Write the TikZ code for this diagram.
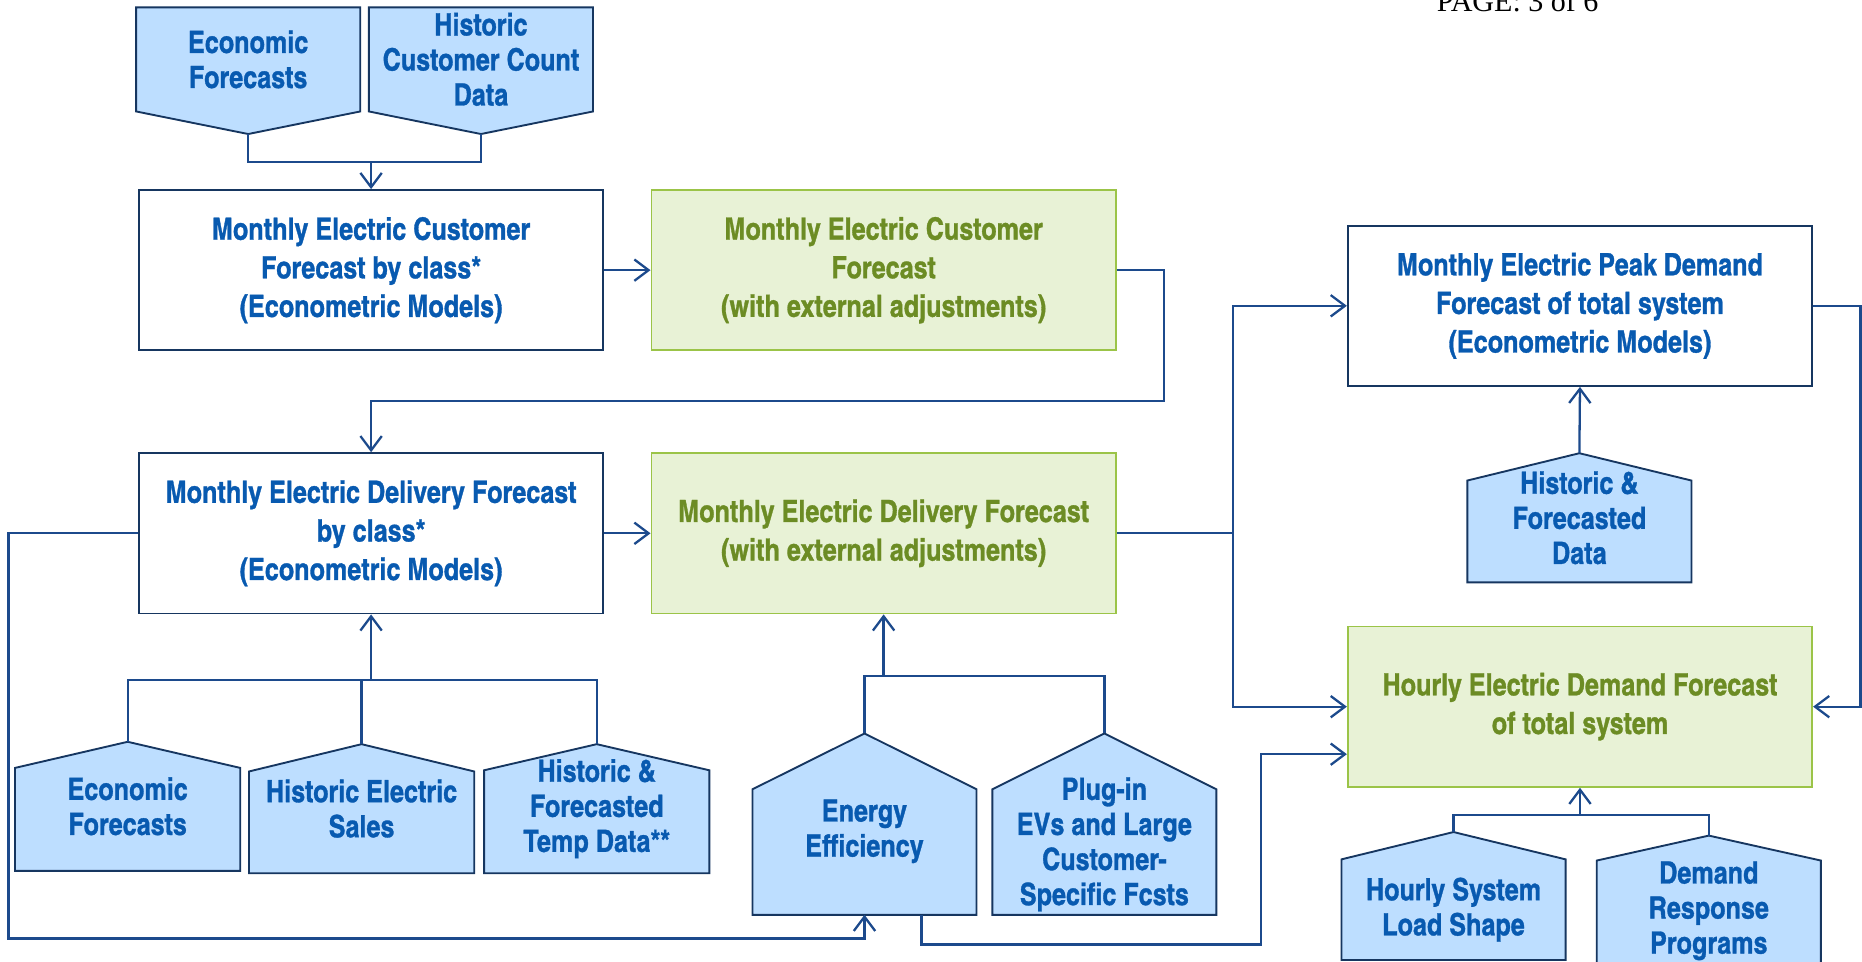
\documentclass[tikz,border=0pt]{standalone}
\usepackage{fontspec}
\setmainfont{texgyreheroscn}[Extension=.otf, UprightFont=*-regular,
  BoldFont=*-bold, BoldFeatures={FakeBold=1}]
\newfontfamily\pagefont{Liberation Serif}
\usetikzlibrary{arrows.meta,positioning,calc,backgrounds}

\definecolor{linkblue}{RGB}{28,74,140}
\definecolor{edgenavy}{RGB}{22,54,96}
\definecolor{inblue}{RGB}{189,222,255}
\definecolor{txtblue}{RGB}{8,90,176}
\definecolor{txtgreen}{RGB}{108,140,36}
\definecolor{adjfill}{RGB}{232,242,214}
\definecolor{adjedge}{RGB}{155,196,72}

\begin{document}
\begin{tikzpicture}[x=0.2mm, y=-0.2mm,
    model/.style={draw=edgenavy, line width=0.9pt, fill=white,
      minimum width=78.2mm, minimum height=27mm, align=center,
      text=txtblue, font=\bfseries\fontsize{14.7}{18.5}\selectfont},
    adjusted/.style={model, draw=adjedge, fill=adjfill, text=txtgreen},
    feed/.style={minimum width=37.6mm, inner sep=0pt, align=center,
      text=txtblue, font=\bfseries\fontsize{14.7}{16.8}\selectfont},
    house/.style={draw=edgenavy, fill=inblue, line width=0.9pt},
    link/.style={linkblue, line width=1.1pt},
    arr/.style={link, -{Straight Barb[length=2.4mm, width=3.6mm]}},
  ]
  \useasboundingbox (0,0) rectangle (1568,810);
  \node[font=\pagefont\fontsize{14.4}{17}\selectfont, anchor=base,
    inner sep=0pt] (pageno) at (1278,10) {PAGE: 3 of 6};

  % --- customer forecast (top row) ---
  \node[feed, minimum height=17.4mm] (econ1) at (209,50)
    {Economic\\Forecasts};
  \node[feed, minimum height=17.4mm] (custdata) at (405,50)
    {Historic\\Customer Count\\Data};
  \node[model] (custmod) at (312.5,227.5)
    {Monthly Electric Customer\\Forecast by class*\\(Econometric Models)};
  \node[adjusted, right=7.8mm of custmod] (custadj)
    {Monthly Electric Customer\\Forecast\\(with external adjustments)};

  % --- delivery forecast (middle row) ---
  \node[model, below=17mm of custmod] (delmod)
    {Monthly Electric Delivery Forecast\\by class*\\(Econometric Models)};
  \node[adjusted, right=7.8mm of delmod] (deladj)
    {Monthly Electric Delivery Forecast\\(with external adjustments)};

  % inputs below the delivery boxes
  \node[feed, minimum width=37.8mm, minimum height=21.6mm] (econ2)
    at (107.5,679) {Economic\\Forecasts};
  \node[feed, minimum width=37.8mm, minimum height=21.6mm] (sales)
    at (304.5,681) {Historic Electric\\Sales};
  \node[feed, minimum width=37.8mm, minimum height=21.6mm] (temp)
    at (502.5,681) {Historic \&\\Forecasted\\Temp Data**};
  \node[feed, minimum height=28mm] (eneff) at (728,700)
    {Energy\\Efficiency};
  \node[feed, minimum height=23.6mm] (plugin) at (930,711)
    {Plug-in\\EVs and Large\\Customer-\\Specific Fcsts};

  % --- system forecasts (right column) ---
  \node[model] (peakmod) at (1330.5,257.5)
    {Monthly Electric Peak Demand\\Forecast of total system\\(Econometric Models)};
  \node[adjusted, below=40.2mm of peakmod] (hourly)
    {Hourly Electric Demand Forecast\\of total system};
  \node[feed, minimum height=21.6mm] (peakdata) at (1330,436)
    {Historic \&\\Forecasted\\Data};
  \node[feed, minimum height=16.8mm] (loadshape) at (1224,766)
    {Hourly System\\Load Shape};
  \node[feed, minimum height=25.2mm] (demresp) at (1439,767)
    {Demand\\Response\\Programs};

  % input shapes behind the texts
  \begin{scope}[on background layer]
    \foreach \n in {econ1, custdata}
      \draw[house] (\n.north west) -- (\n.north east) -- (\n.south east)
        -- ($(\n.south)+(0,19)$) coordinate (\n-tip) -- (\n.south west) -- cycle;
    % shoulder drop / tip rise above the node, in px
    \foreach \n/\s/\t in {econ2/22/0, sales/23/0, temp/22/0, eneff/35/12,
        plugin/13/34, peakdata/23/0, loadshape/0/23, demresp/21/0}
      \draw[house] (\n.south west) -- ($(\n.north west)+(0,\s)$)
        -- ($(\n.north)+(0,-\t)$) coordinate (\n-tip)
        -- ($(\n.north east)+(0,\s)$) -- (\n.south east) -- cycle;
  \end{scope}

  % --- connectors ---
  \coordinate (topjoin) at ([yshift=4.6mm]custmod.north);
  \draw[link] (econ1-tip) |- (topjoin) -| (custdata-tip);
  \draw[arr] (topjoin) -- (custmod.north);
  \draw[arr] (custmod) -- (custadj);
  \draw[arr] (custadj.east) -- ++(40,0) |- ([yshift=8.6mm]delmod.north)
    -- (delmod.north);
  \draw[arr] (delmod) -- (deladj);

  \coordinate (deljoin) at ([yshift=-11mm]delmod.south);
  \draw[link] (econ2-tip) |- (deljoin) -| (temp-tip);
  \draw[link] (sales-tip) -- (sales-tip |- deljoin);
  \draw[arr] (deljoin) -- (delmod.south);

  \coordinate (effjoin) at ([yshift=-10.4mm]deladj.south);
  \draw[link] (eneff-tip) |- (effjoin) -| (plugin-tip);
  \draw[arr] (effjoin) -- (deladj.south);
  \draw[arr] (delmod.west) -- ++(-109,0) |- ([yshift=-4mm]eneff.south)
    -- (eneff.south);

  \coordinate (split) at ([xshift=19.6mm]deladj.east);
  \draw[link] (deladj.east) -- (split);
  \draw[arr] (split) |- (peakmod.west);
  \draw[arr] (split) |- (hourly.west);
  \draw[arr] (peakmod.east) -- ++(40,0) |- (hourly.east);
  \draw[arr] ([xshift=9.6mm]eneff.south) |- ++(286,25)
    |- ([yshift=-8mm]hourly.west);

  \draw[arr] (peakdata-tip) -- (peakmod.south);
  \coordinate (hourjoin) at ([yshift=-4.6mm]hourly.south);
  \draw[link] (loadshape-tip) |- (hourjoin) -| (demresp-tip);
  \draw[arr] (hourjoin) -- (hourly.south);
\end{tikzpicture}
\end{document}
